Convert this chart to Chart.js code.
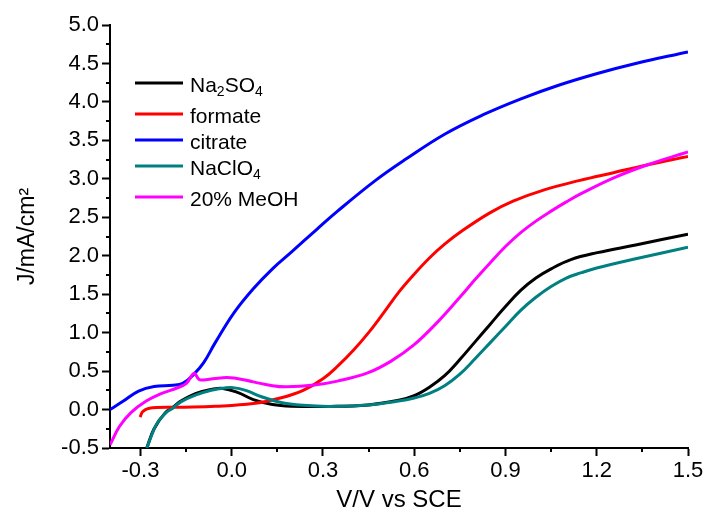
<!DOCTYPE html>
<html>
<head>
<meta charset="utf-8">
<script src="https://cdn.jsdelivr.net/npm/chart.js@4.4.0/dist/chart.umd.min.js"></script>
<style>
  html, body { margin: 0; padding: 0; background: #fff; }
  #wrap { width: 706px; height: 516px; }
</style>
</head>
<body>
<div id="wrap"><canvas id="ivChart" width="706" height="516"></canvas></div>
<script>
// tick labels
const xTicks = [-0.3, 0.0, 0.3, 0.6, 0.9, 1.2, 1.5];
const yTicks = [-0.5, 0.0, 0.5, 1.0, 1.5, 2.0, 2.5, 3.0, 3.5, 4.0, 4.5, 5.0];
const xMinor = [-0.15, 0.15, 0.45, 0.75, 1.05, 1.35];
const yMinor = [-0.25, 0.25, 0.75, 1.25, 1.75, 2.25, 2.75, 3.25, 3.75, 4.25, 4.75];

// series (V vs SCE, J in mA/cm2)
const na2so4V = [-0.279, -0.255, -0.218, -0.193, -0.167, -0.117, -0.067, -0.029, 0.021, 0.071, 0.134, 0.197, 0.323, 0.449, 0.549, 0.60, 0.65, 0.70, 0.75, 0.80, 0.85, 0.90, 0.95, 1.00, 1.05, 1.115, 1.202, 1.328, 1.5];
const na2so4J = [-0.5, -0.25, -0.04, 0.03, 0.11, 0.21, 0.26, 0.275, 0.22, 0.13, 0.065, 0.043, 0.04, 0.06, 0.12, 0.18, 0.29, 0.44, 0.65, 0.88, 1.11, 1.34, 1.55, 1.71, 1.83, 1.95, 2.04, 2.14, 2.28];

const formateV = [-0.301, -0.293, -0.274, -0.18, -0.054, 0.071, 0.16, 0.235, 0.30, 0.35, 0.40, 0.45, 0.50, 0.55, 0.60, 0.65, 0.70, 0.76, 0.85, 0.925, 1.03, 1.145, 1.255, 1.365, 1.5];
const formateJ = [-0.10, -0.03, 0.015, 0.03, 0.043, 0.078, 0.15, 0.25, 0.40, 0.57, 0.77, 1.00, 1.26, 1.53, 1.76, 1.97, 2.15, 2.33, 2.56, 2.71, 2.86, 2.98, 3.08, 3.18, 3.29];

const citrateV = [-0.4, -0.356, -0.306, -0.255, -0.193, -0.161, -0.124, -0.092, -0.054, 0.008, 0.071, 0.134, 0.197, 0.279, 0.348, 0.473, 0.574, 0.70, 0.825, 0.951, 1.077, 1.202, 1.328, 1.5];
const citrateJ = [0.0, 0.11, 0.24, 0.30, 0.315, 0.34, 0.46, 0.61, 0.87, 1.26, 1.57, 1.83, 2.05, 2.34, 2.58, 2.98, 3.26, 3.58, 3.83, 4.04, 4.22, 4.37, 4.50, 4.65];

const naclo4V = [-0.279, -0.247, -0.218, -0.193, -0.167, -0.117, -0.067, -0.023, 0.004, 0.046, 0.096, 0.159, 0.235, 0.323, 0.449, 0.549, 0.60, 0.65, 0.70, 0.75, 0.80, 0.85, 0.90, 0.95, 1.00, 1.05, 1.10, 1.15, 1.20, 1.328, 1.5];
const naclo4J = [-0.5, -0.19, -0.05, 0.02, 0.10, 0.19, 0.25, 0.28, 0.285, 0.25, 0.17, 0.095, 0.055, 0.04, 0.06, 0.11, 0.15, 0.21, 0.31, 0.46, 0.66, 0.87, 1.08, 1.29, 1.46, 1.60, 1.71, 1.78, 1.84, 1.96, 2.11];

const meohV = [-0.4, -0.369, -0.331, -0.281, -0.23, -0.18, -0.149, -0.124, -0.107, -0.092, -0.029, 0.008, 0.071, 0.134, 0.18, 0.272, 0.348, 0.449, 0.524, 0.599, 0.675, 0.75, 0.80, 0.85, 0.90, 0.95, 1.00, 1.05, 1.10, 1.15, 1.254, 1.365, 1.5];
const meohJ = [-0.46, -0.22, -0.04, 0.11, 0.21, 0.28, 0.34, 0.47, 0.39, 0.385, 0.415, 0.41, 0.36, 0.31, 0.295, 0.32, 0.37, 0.48, 0.63, 0.84, 1.13, 1.46, 1.69, 1.91, 2.12, 2.30, 2.45, 2.58, 2.70, 2.81, 3.01, 3.18, 3.35];

const FONT = "'Liberation Sans', Arial, sans-serif";
Chart.defaults.font.family = FONT;
Chart.defaults.color = '#000';

function pts(xs, ys) {
    return xs.map((x, i) => ({ x: x, y: ys[i] }));
}

function series(label, xs, ys, color, order) {
    return {
        label: label,
        data: pts(xs, ys),
        borderColor: color,
        backgroundColor: color,
        borderWidth: 3,
        pointRadius: 0,
        fill: false,
        tension: 0.4,
        order: order
    };
}

// minor ticks + legend inside the plot
const extrasPlugin = {
    id: 'extras',
    afterDraw(chart) {
        const ctx = chart.ctx;
        const xs = chart.scales.x, ys = chart.scales.y;
        const a = chart.chartArea;
        ctx.save();
        ctx.strokeStyle = '#000';
        ctx.lineWidth = 2;
        ctx.beginPath();
        xMinor.forEach(v => {
            const px = Math.round(xs.getPixelForValue(v));
            ctx.moveTo(px, a.bottom);
            ctx.lineTo(px, a.bottom + 4);
        });
        yMinor.forEach(v => {
            const py = Math.round(ys.getPixelForValue(v));
            ctx.moveTo(a.left, py);
            ctx.lineTo(a.left - 4, py);
        });
        ctx.stroke();

        // legend
        const subs = '₀₁₂₃₄₅₆₇₈₉';
        let y = a.top + 58;
        chart.data.datasets.forEach(ds => {
            ctx.strokeStyle = ds.borderColor;
            ctx.lineWidth = 3;
            ctx.beginPath();
            ctx.moveTo(a.left + 25, y);
            ctx.lineTo(a.left + 73, y);
            ctx.stroke();

            ctx.fillStyle = '#000';
            ctx.textBaseline = 'alphabetic';
            ctx.textAlign = 'left';
            let x = a.left + 80;
            let hasSub = false;
            // split label into normal / subscript runs
            const runs = [];
            for (const ch of ds.label) {
                const k = subs.indexOf(ch);
                const isSub = k >= 0;
                const c = isSub ? String(k) : ch;
                if (runs.length && runs[runs.length - 1].sub === isSub) runs[runs.length - 1].t += c;
                else runs.push({ t: c, sub: isSub });
            }
            runs.forEach(r => {
                if (r.sub) {
                    hasSub = true;
                    ctx.font = '14px ' + FONT;
                    ctx.fillText(r.t, x, y + 12.5);
                } else {
                    ctx.font = '21px ' + FONT;
                    ctx.fillText(r.t, x, y + 8.5);
                }
                x += ctx.measureText(r.t).width;
            });
            y += hasSub ? 31 : 26;
        });
        ctx.restore();
    }
};

new Chart(document.getElementById('ivChart'), {
    type: 'line',
    data: {
        datasets: [
            series('Na₂SO₄', na2so4V, na2so4J, '#000000', 5),
            series('formate', formateV, formateJ, '#ff0000', 4),
            series('citrate', citrateV, citrateJ, '#0000ff', 3),
            series('NaClO₄', naclo4V, naclo4J, '#008080', 2),
            series('20% MeOH', meohV, meohJ, '#ff00ff', 1)
        ]
    },
    options: {
        responsive: false,
        devicePixelRatio: 1,
        animation: false,
        layout: { padding: { top: 25, right: 18, bottom: 0, left: 0 } },
        plugins: {
            legend: { display: false },
            tooltip: { enabled: false }
        },
        scales: {
            x: {
                type: 'linear',
                min: -0.4,
                max: 1.5,
                afterBuildTicks: s => { s.ticks = xTicks.map(v => ({ value: v })); },
                afterFit: s => { s.height = 68; },
                border: { color: '#000', width: 2 },
                grid: { drawOnChartArea: false, tickLength: 8, tickWidth: 2, tickColor: '#000' },
                ticks: {
                    color: '#000',
                    font: { size: 22 },
                    padding: 2,
                    maxRotation: 0,
                    autoSkip: false,
                    callback: v => v.toFixed(1)
                },
                title: {
                    display: true,
                    text: 'V/V vs SCE',
                    color: '#000',
                    font: { size: 24 },
                    padding: { top: 0, bottom: 1 }
                }
            },
            y: {
                type: 'linear',
                min: -0.5,
                max: 5.0,
                afterBuildTicks: s => { s.ticks = yTicks.map(v => ({ value: v })); },
                afterFit: s => { s.width = 110; },
                border: { color: '#000', width: 2 },
                grid: { drawOnChartArea: false, tickLength: 8, tickWidth: 2, tickColor: '#000' },
                ticks: {
                    color: '#000',
                    font: { size: 22 },
                    padding: 3,
                    autoSkip: false,
                    callback: v => v.toFixed(1)
                },
                title: {
                    display: true,
                    text: 'J/mA/cm²',
                    color: '#000',
                    font: { size: 23 },
                    padding: 14
                }
            }
        }
    },
    plugins: [extrasPlugin]
});
</script>
</body>
</html>
